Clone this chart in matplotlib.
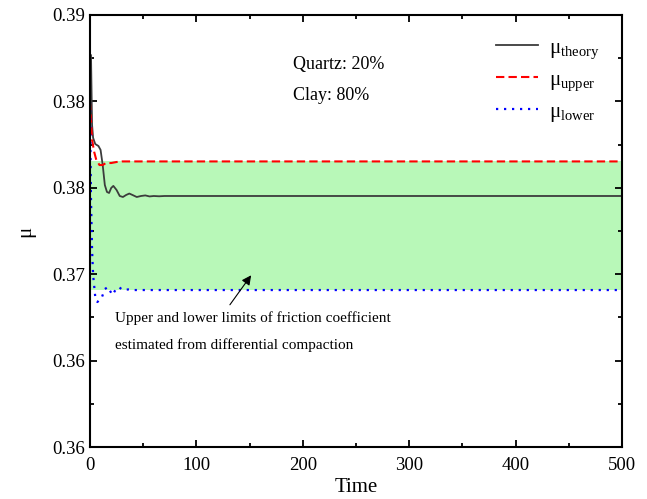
import numpy as np
import matplotlib
matplotlib.use('Agg')
import matplotlib.pyplot as plt
from matplotlib.ticker import MultipleLocator, FixedLocator

plt.rcParams['font.family'] = ['Liberation Serif', 'DejaVu Serif']
plt.rcParams['mathtext.fontset'] = 'custom'
plt.rcParams['mathtext.rm'] = 'Liberation Serif'
plt.rcParams['mathtext.it'] = 'Liberation Serif'

# values
t_theory = [0, 1, 2, 3, 5, 8, 10, 12, 14, 16, 18, 20, 22, 25, 28, 31, 34, 37,
            40, 44, 48, 52, 56, 60, 65, 70, 500]
mu_theory = [0.38271, 0.38722, 0.38236, 0.38146, 0.38104, 0.38090, 0.38063,
             0.37958, 0.37819, 0.37771, 0.37764, 0.37799, 0.37813, 0.37785,
             0.37743, 0.37736, 0.37750, 0.37760, 0.37750, 0.37736, 0.37743,
             0.37747, 0.37740, 0.37743, 0.37741, 0.37743, 0.37743]

t_upper = [0, 1, 2, 4, 6, 9, 12, 15, 20, 25, 30, 500]
mu_upper = [0.38396, 0.38271, 0.38132, 0.38049, 0.37993, 0.37958, 0.37958,
            0.37972, 0.37972, 0.37979, 0.37983, 0.37983]

t_lower = [0, 1, 2, 3, 5, 7, 11, 14, 17, 21, 24, 27, 31, 36, 40, 500]
mu_lower = [0.38396, 0.37715, 0.37368, 0.37194, 0.37042, 0.37007, 0.37035,
            0.37097, 0.37111, 0.37056, 0.37090, 0.37111, 0.37090, 0.37094,
            0.37090, 0.37090]

band_t = [0, 500]
band_lo = 0.37090
band_hi = 0.37983

yticks = [0.360, 0.366, 0.372, 0.378, 0.384, 0.390]
ytick_labels = ['0.36', '0.36', '0.37', '0.38', '0.38', '0.39']

fig = plt.figure(figsize=(6.47, 4.99), dpi=100)
ax = fig.add_axes([0.139, 0.1042, 0.8224, 0.8658])

ax.fill_between(band_t, band_lo, band_hi, color='#b8f8b8', lw=0)
ax.plot(t_theory, mu_theory, color='#3c3c3c', lw=1.3,
        label=r'μ$_{\mathrm{theory}}$')
ax.plot(t_upper, mu_upper, color='#ff0000', lw=1.5, ls=(0, (4, 2)),
        label=r'μ$_{\mathrm{upper}}$')
ax.plot(t_lower, mu_lower, color='#0000ff', lw=1.6, ls=(0, (1, 2.6)),
        label=r'μ$_{\mathrm{lower}}$')

ax.set_xlim(0, 500)
ax.set_ylim(0.36, 0.39)
ax.xaxis.set_major_locator(MultipleLocator(100))
ax.xaxis.set_minor_locator(MultipleLocator(50))
ax.yaxis.set_major_locator(FixedLocator(yticks))
ax.yaxis.set_minor_locator(MultipleLocator(0.003))
ax.set_yticklabels(ytick_labels)
ax.tick_params(which='both', direction='in', top=True, right=True,
               labelsize=13.5, width=1.3)
ax.tick_params(which='major', length=5)
ax.tick_params(axis='x', pad=7)
ax.tick_params(which='minor', length=3)
for s in ax.spines.values():
    s.set_linewidth(1.5)

ax.set_xlabel('Time', fontsize=15, labelpad=3)
ax.set_ylabel('μ', fontsize=15, labelpad=12)

ax.text(0.382, 0.874, 'Quartz: 20%', transform=ax.transAxes, fontsize=13)
ax.text(0.382, 0.803, 'Clay: 80%', transform=ax.transAxes, fontsize=13)

ax.annotate('', xy=(153, 0.37208), xytext=(130, 0.36972),
            arrowprops=dict(arrowstyle='-|>', color='black', lw=0.8,
                            mutation_scale=14))
ax.text(23.5, 0.3694, 'Upper and lower limits of friction coefficient\n'
        'estimated from differential compaction', fontsize=11,
        va='top', linespacing=2.15)

ax.legend(loc='upper right', frameon=False, fontsize=15, labelspacing=0.45,
          handlelength=2.05, handletextpad=0.5,
          bbox_to_anchor=(0.985, 0.98), borderaxespad=0.3)

plt.savefig('out.png', dpi=100)
